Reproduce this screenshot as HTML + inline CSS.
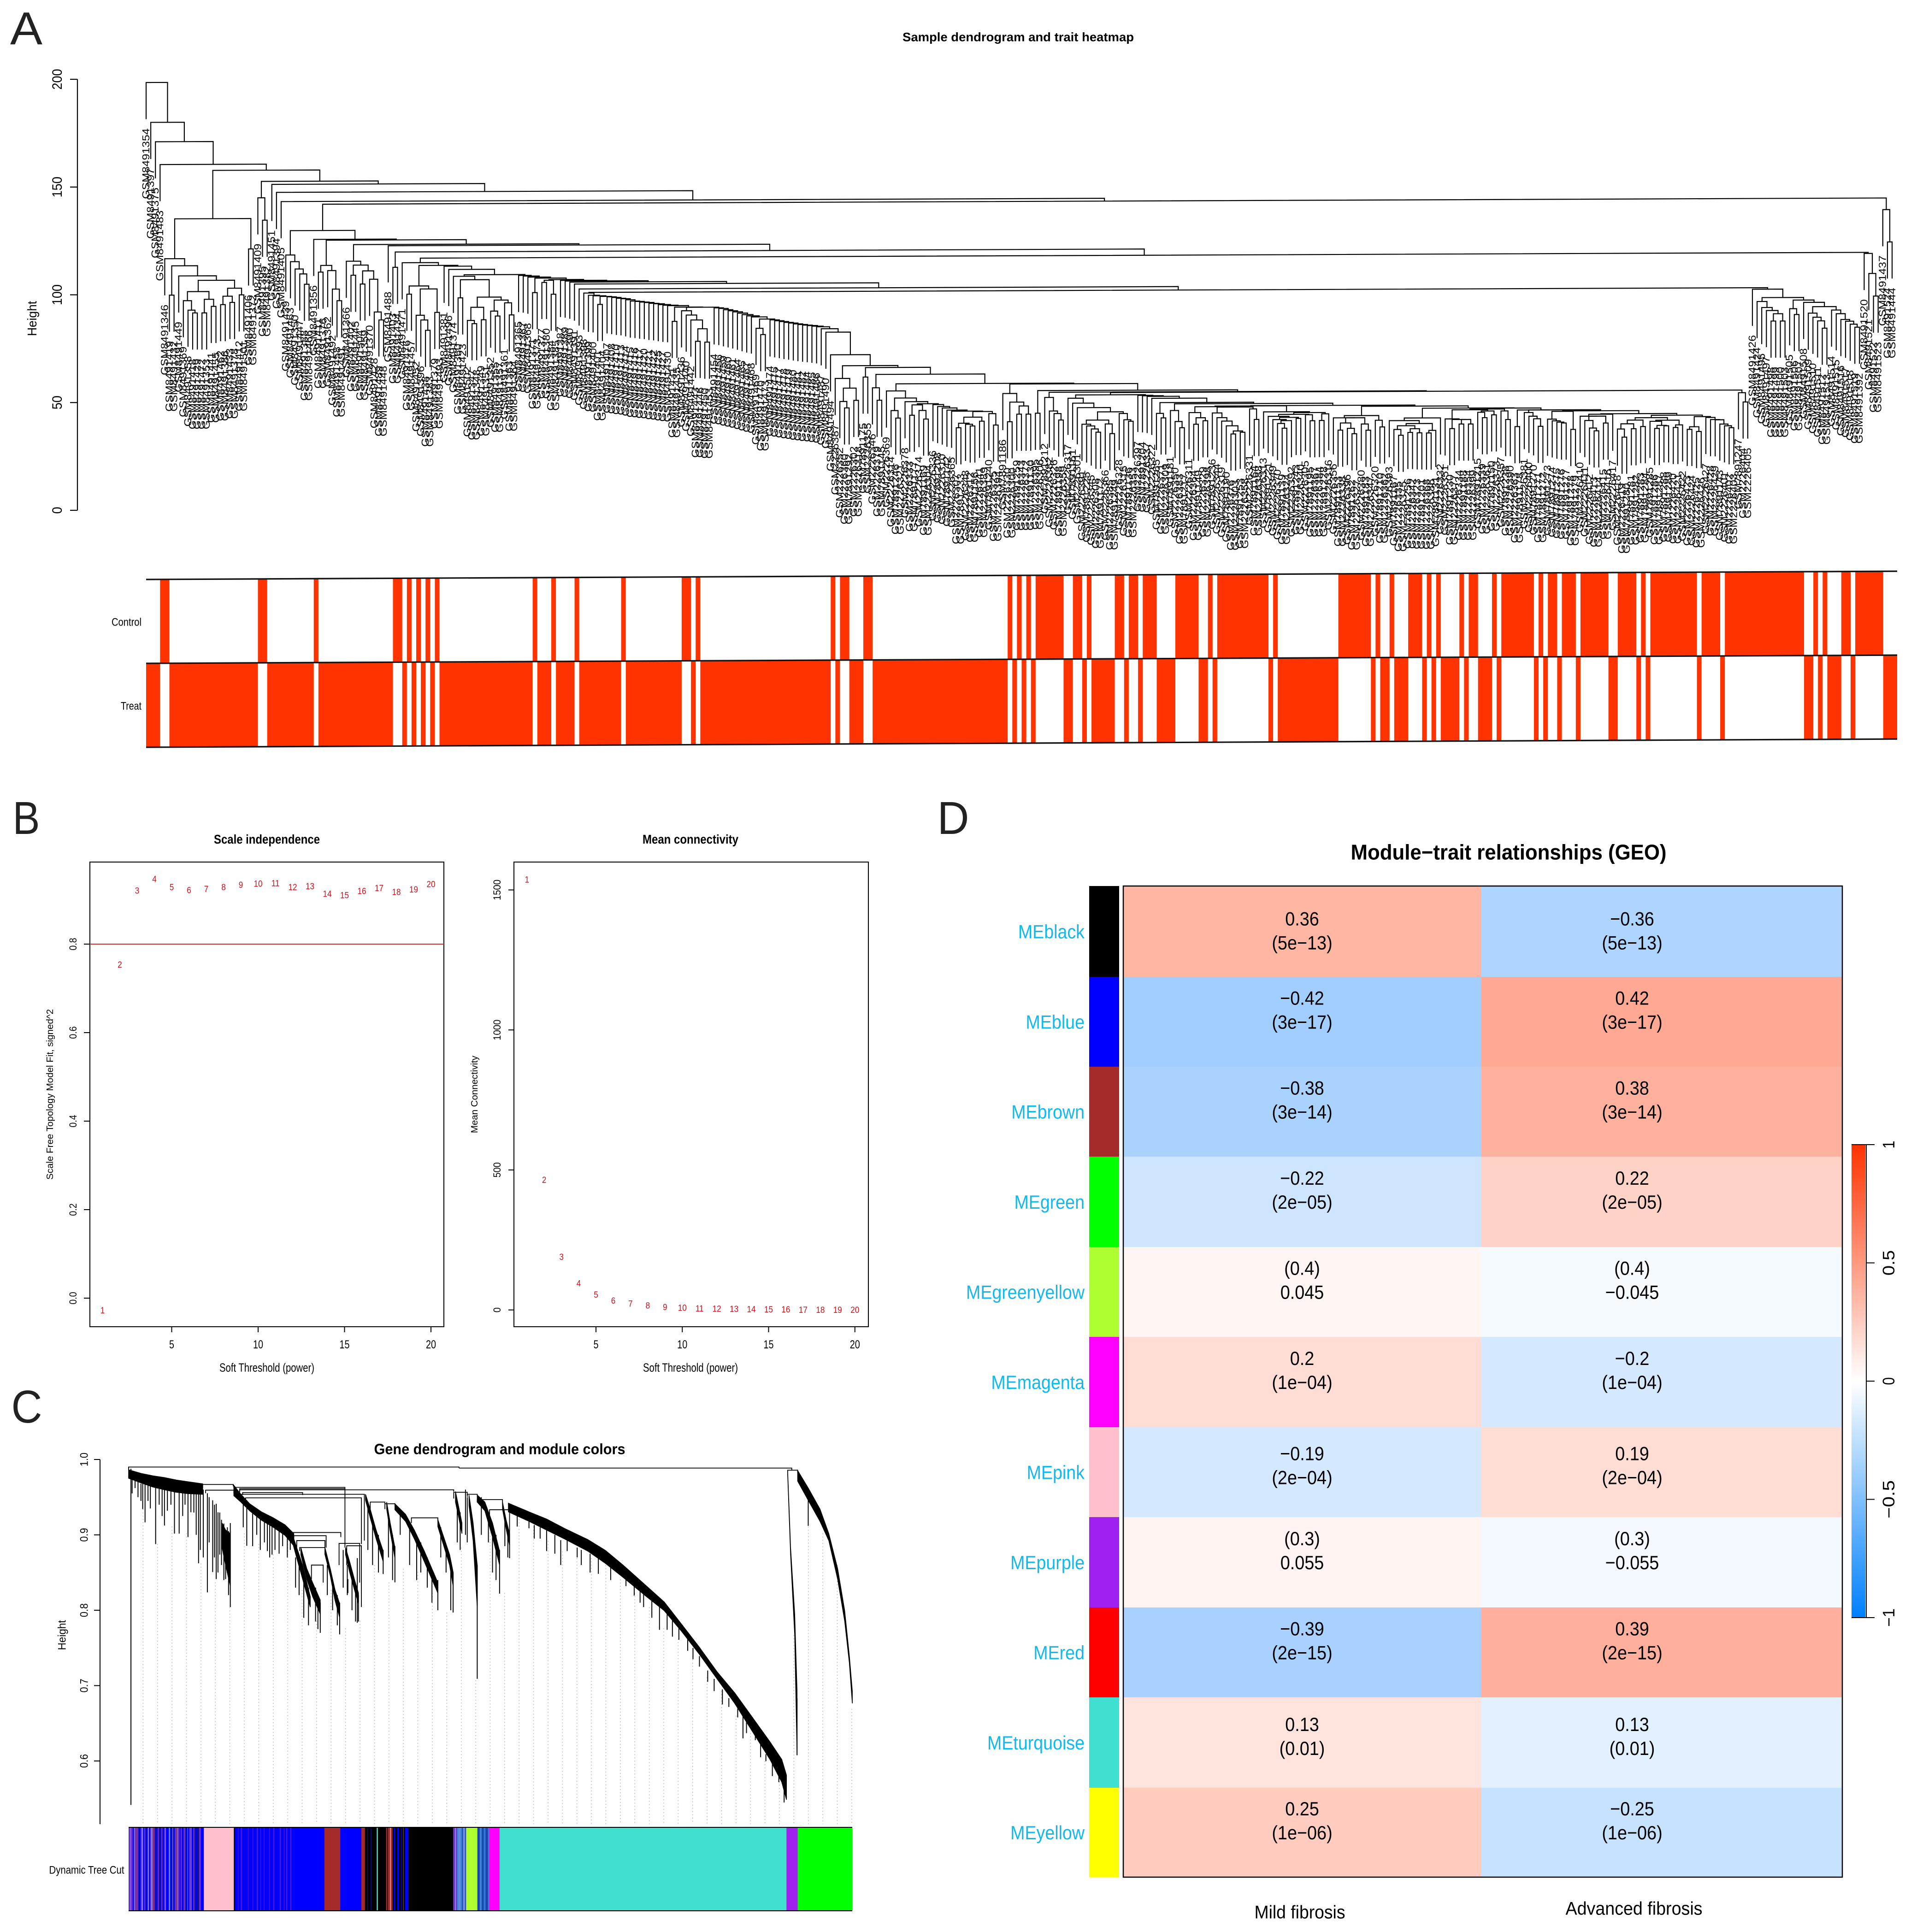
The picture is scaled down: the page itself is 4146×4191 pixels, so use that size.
<!DOCTYPE html>
<html lang="en">
<head>
<meta charset="utf-8">
<title>WGCNA figure</title>
<style>
html,body{margin:0;padding:0;background:#fff;}
svg{display:block;}
text{font-family:"Liberation Sans",sans-serif;}
</style>
</head>
<body>
<svg id="figure" xmlns="http://www.w3.org/2000/svg" width="4146" height="4191" viewBox="0 0 4146 4191">
<defs><linearGradient id="heatRamp" x1="0" y1="0" x2="0" y2="1"></linearGradient></defs>
<rect width="4146" height="4191" fill="#fff"/>
<g id="panelA">
  <g id="panelATree" transform="matrix(1,-0.004,0,1,0,1.268)"></g>
  <g id="panelAHeat" transform="matrix(1,-0.0047,0,1,0,1.49)"></g>
</g>
<g id="panelB"></g>
<g id="panelC"></g>
<g id="panelD"></g>
</svg>
<script>
/* ---------- Panel A data ---------- */
const joinHeights = [198.5,180,171,160.4,116.7,99.8,113.4,108.7,97.2,92.8,
91.5,101.4,91.5,97.8,94.5,106.6,95.3,99.2,96.3,102.9,
99.8,135.2,121.1,157.6,144.8,134.4,152.4,151,147.3,143,
118.2,115.1,111.7,109.4,104.6,129.5,125.4,110.2,113.3,110.9,
102.3,96.9,125,115.2,108.7,113.4,104.6,110.7,106.8,91.6,
87.9,122.9,122.3,112.3,119.4,114.4,
99.8,103.6,90,87.8,83,102.2,91.3,113.1,112.7,111.2,
108,98,106.4,87.5,86,93.6,87.8,98.3,91.8,89.5,
96.9,95.6,90,108.7,108.3,108,107.5,100.3,107,105,
106,99.5,106.3,105.9,105.6,105.1,104.2,101.9,100,
98.95,98.7,94.7,98.4,98.2,97.9,97.5,97.3,96.8,96.2,
96,95.7,95.5,95.1,94.9,94.5,94.2,94,86.7,93.3,
91.6,89.6,87.3,77.4,83.2,77,93.2,92.9,92.6,92,
91.5,91,90.4,89.7,89.1,88.6,83.3,80.4,87.6,87.2,
86.8,86.4,86,85.7,85.3,85,84.7,84.5,84.2,83.9,
83,81.4,70.9,59.9,49.2,46.2,55.4,49.7,65.8,60.5,
64.9,55.5,49.7,61.7,54,44.9,41.4,50.7,49,42.7,
47.5,44.9,40.9,48,47.6,46.7,46,45,44.5,36.8,
38.9,38.4,37.6,41.7,39.8,44.3,43.3,38,57.3,52.6,
39.5,48.6,43,46.8,43,57,43.4,53.9,50.7,44.4,
43.2,40.2,53.1,50.3,48,45.9,38.2,37.4,36,34.5,
40.1,38.3,33.8,43.9,43.1,40.2,39.5,51.8,51.5,51.3,
51,50.1,43.1,41,48.1,44.4,39.3,36.4,47.5,43.4,
38,41,39.6,46.1,43.2,41,39.4,37.2,33.4,34.8,
34.2,45.9,45,40.1,46.4,43.6,41.5,40,38.2,36,
39.5,41,40.5,42.4,
42.2,39.4,43.2,39.5,42.6,46.5,40.7,35,38.3,35.8,
33.3,40.7,37.8,34.9,41.7,39.5,36.4,46,39.3,35.2,
32.5,36.9,33.8,35.5,33.6,37.9,33.5,34.7,40.5,45,
40,35.5,39.7,37.6,39.7,37.6,44.2,43,40.5,43.6,
41.8,44.5,43.6,39.6,44.9,36.3,44,42.8,41.1,39.9,
36.4,44,39.7,38.9,38.3,37.9,43.3,34.9,43.5,41,
39,35.5,34.2,41,37.8,41.9,42.1,35,31.2,37.4,
35.1,39.1,36.1,40.2,38.5,35.2,36.6,36.4,39,35.6,
36.8,41.3,34.7,35.9,33.7,40.6,40.2,39.2,39.1,37.1,
36.3,35.4,52.85,51.6,47.3,100.3,
99.6,93.9,91.1,89.7,84.8,88.2,84.8,95.7,90.5,87.8,
94.5,93.4,88.4,86.5,84.8,81.4,91.4,89.8,88.1,85.4,
84.6,83.2,81.8,116.5,116,106.7,96.2,141.7,136.3,121.3];

const sampleLabels = ("GSM8491354 GSM8491397 GSM8491375 GSM8491483 GSM8491346 GSM8491419 GSM8491432 GSM8491449 GSM8491369 GSM8491358 " +
"GSM8491418 GSM8491429 GSM8491472 GSM8491353 GSM8491441 GSM8491455 GSM8491462 GSM8491386 GSM8491433 GSM8491378 " +
"GSM8491412 GSM8491501 GSM8491406 GSM8491372 GSM8491409 GSM8491395 GSM8491382 GSM8491451 GSM8491394 GSM8491405 " +
"GSM8491439 GSM8491463 GSM8491350 GSM8491447 GSM8491388 GSM8491466 GSM8491356 GSM8491411 GSM8491376 GSM8491362 " +
"GSM8491492 GSM8491458 GSM8491491 GSM8491366 GSM8491402 GSM8491445 GSM8491504 GSM8491359 GSM8491370 GSM8491428 " +
"GSM8491489 GSM8491448 GSM8491488 GSM8491403 GSM8491434 GSM8491471 GSM8491476 GSM8491457 GSM8491452 GSM8491396 " +
"GSM8491438 GSM8491383 GSM8491379 GSM8491493 GSM8491381 GSM8491496 GSM8491374 GSM8491360 GSM8491423 GSM8491502 " +
"GSM8491347 GSM8491348 GSM8491349 GSM8491351 GSM8491352 GSM8491355 GSM8491357 GSM8491361 GSM8491363 GSM8491364 " +
"GSM8491365 GSM8491367 GSM8491368 GSM8491371 GSM8491373 GSM8491377 GSM8491380 GSM8491384 GSM8491385 GSM8491387 " +
"GSM8491389 GSM8491390 GSM8491391 GSM8491393 GSM8491398 GSM8491399 GSM8491400 GSM8491401 GSM8491404 GSM8491407 " +
"GSM8491408 GSM8491410 GSM8491413 GSM8491414 GSM8491415 GSM8491416 GSM8491417 GSM8491420 GSM8491421 GSM8491422 " +
"GSM8491425 GSM8491427 GSM8491430 GSM8491431 GSM8491435 GSM8491436 GSM8491440 GSM8491442 GSM8491443 GSM8491446 " +
"GSM8491450 GSM8491453 GSM8491454 GSM8491456 GSM8491459 GSM8491460 GSM8491461 GSM8491464 GSM8491465 GSM8491467 " +
"GSM8491468 GSM8491469 GSM8491470 GSM8491473 GSM8491474 GSM8491475 GSM8491477 GSM8491478 GSM8491479 GSM8491480 " +
"GSM8491481 GSM8491482 GSM8491484 GSM8491485 GSM8491486 GSM8491487 GSM8491490 GSM8491494 " +
"GSM2226387 GSM2226352 GSM2226360 GSM7891292 GSM2226302 GSM2226318 GSM7891175 GSM2226355 GSM2226346 GSM2226379 " +
"GSM7891145 GSM2226369 GSM2226314 GSM7891246 GSM2226321 GSM2226378 GSM2226333 GSM7891177 GSM2226374 GSM7891169 " +
"GSM2226304 GSM2226336 GSM7891208 GSM2226310 GSM7891142 GSM2226365 GSM2226307 GSM7891233 GSM2226348 GSM2226312 " +
"GSM7891156 GSM2226341 GSM2226389 GSM7891240 GSM2226325 GSM2226394 GSM7891186 GSM2226330 GSM2226300 GSM7891259 " +
"GSM2226343 GSM2226372 GSM7891130 GSM2226395 GSM2226306 GSM7891212 GSM2226382 GSM2226326 GSM7891198 GSM2226359 " +
"GSM2226317 GSM7891161 GSM2226301 GSM2226391 GSM7891225 GSM2226345 GSM2226308 GSM7891172 GSM2226366 GSM2226385 " +
"GSM7891249 GSM2226328 GSM2226315 GSM7891136 GSM2226353 GSM2226397 GSM7891204 GSM2226337 GSM2226322 GSM7891265 " +
"GSM2226371 GSM2226309 GSM7891181 GSM2226350 GSM2226383 GSM7891217 GSM2226311 GSM2226364 GSM7891149 GSM2226329 " +
"GSM2226398 GSM7891236 GSM2226344 GSM2226319 GSM7891190 GSM2226376 GSM2226303 GSM7891253 GSM2226358 GSM2226331 " +
"GSM7891164 GSM2226388 GSM2226313 GSM7891221 GSM2226349 GSM2226370 GSM7891139 GSM2226324 GSM2226392 GSM7891243 " +
"GSM2226340 GSM2226305 GSM7891195 GSM2226367 GSM2226384 GSM7891228 GSM2226316 GSM2226356 GSM7891153 GSM2226338 " +
"GSM2226396 GSM7891262 GSM2226327 GSM2226380 GSM7891183 GSM2226347 GSM2226320 GSM7891210 GSM2226362 GSM2226393 " +
"GSM7891167 GSM2226335 GSM2226375 GSM7891256 GSM2226342 GSM2226323 GSM7891201 GSM2226368 GSM2226386 GSM7891131 " +
"GSM2226332 GSM2226351 GSM7891230 GSM2226377 GSM2226334 GSM7891188 GSM2226354 GSM2226399 GSM7891215 GSM2226339 " +
"GSM2226361 GSM7891150 GSM2226373 GSM2226357 GSM7891238 GSM2226390 GSM2226363 GSM7891178 GSM2226381 GSM2226400 " +
"GSM7891270 GSM7891271 GSM7891272 GSM7891273 GSM7891274 GSM7891275 GSM7891276 GSM7891277 GSM7891278 GSM7891279 " +
"GSM2226410 GSM2226411 GSM2226412 GSM2226413 GSM2226414 GSM2226415 GSM2226416 GSM2226417 GSM2226418 GSM2226419 " +
"GSM7891280 GSM7891281 GSM7891282 GSM7891283 GSM7891284 GSM7891285 GSM7891286 GSM7891287 GSM7891288 GSM7891289 " +
"GSM2226420 GSM2226421 GSM2226422 GSM2226423 GSM2226424 GSM2226425 GSM2226426 GSM2226427 GSM2226428 GSM2226429 " +
"GSM7891143 GSM2226401 GSM2226402 GSM2226403 GSM7891247 GSM2226404 GSM2226405 " +
"GSM8491426 GSM8491424 GSM8491495 GSM8491497 GSM8491498 GSM8491499 GSM8491500 GSM8491503 GSM8491505 GSM8491506 " +
"GSM8491507 GSM8491508 GSM8491509 GSM8491510 GSM8491511 GSM8491512 GSM8491513 GSM8491514 GSM8491515 GSM8491516 " +
"GSM8491517 GSM8491518 GSM8491519 GSM8491392 GSM8491520 GSM8491521 GSM8491522 GSM8491523 GSM8491437 GSM8491524 GSM8491444").split(" ");

const controlSamples = [3,4,24,25,36,53,54,56,58,60,62,83,87,92,102,115,116,118,147,149,150,154,155,
185,187,189,191,192,193,194,195,196,199,200,202,208,209,211,212,214,215,216,221,222,223,224,225,228,
230,231,232,233,234,235,236,237,238,239,240,242,256,257,258,259,260,261,262,264,267,271,272,273,275,277,
282,284,285,289,291,292,293,294,295,296,297,299,301,302,304,305,306,308,309,310,311,312,313,316,317,318,319,321,
323,324,325,326,327,328,329,330,331,332,334,335,336,337,339,340,341,342,343,344,345,346,347,348,349,350,351,352,353,354,355,
358,360,364,365,367,368,369,370,371,372];
const heightTicks = [0,50,100,150,200];
const traitRows = ["Control","Treat"];

/* ---------- Panel B data ---------- */
const softPowers = [1,2,3,4,5,6,7,8,9,10,11,12,13,14,15,16,17,18,19,20];
const scaleFitR2 = [-0.027,0.754,0.921,0.947,0.929,0.922,0.925,0.929,0.934,0.937,0.938,0.929,0.931,0.914,0.911,0.92,0.927,0.918,0.924,0.936];
const meanConnectivity = [1538,465,190,95,55,34,23,16,11,8,6,5,4,3,2,2,1,1,1,1];
const powerTicks = [5,10,15,20];
const fitTicks = [0,0.2,0.4,0.6,0.8];
const connTicks = [0,500,1000,1500];
const fitCutoff = 0.8;

/* ---------- Panel C data (rank = position along gene order, height = tree height) ---------- */
const geneTicks = [0.6,0.7,0.8,0.9,1];
const branchRanks = [
[0,21,41,61,81,101,126],[159,165,173],[179,191,206,226,246,266,281],[278,286,296,309],[293,303,313,326],
[334,343,351,359],[369,376,384,391],[403,411,421,433],[439,445,453],[453,471,486,503,526],[526,536,546,552],
[556,561,567],[579,586,593],[593,606,619,631],[636,642,648],
[646,681,711,741,781,811,841,881,911,941,971,1001,1031,1061,1091,1111,1119],
[1138,1156,1176,1191,1206,1218,1226,1231],[1121,1126,1133,1137]];
const branchUpper = [
[.9863,.9816,.9784,.976,.9728,.9705,.9677],[.9157,.9064,.9017],[.9658,.9538,.9412,.9305,.9226,.9133,.9017],[.9017,.8831,.8599,.8181],[.8831,.8553,.8367,.8135],
[.8831,.8553,.8274,.8088],[.8831,.8645,.8413,.8227],[.9538,.9342,.9064,.8785],[.9435,.9157,.8831],[.9412,.9273,.9064,.8785,.8367],[.9203,.8971,.8738,.8506],
[.9575,.9389,.9157],[.9528,.9157,.8599],[.9528,.9435,.9157,.8785],[.9435,.9203,.9017],
[.942,.9305,.921,.9087,.8938,.8794,.8599,.832,.811,.781,.7507,.7182,.6903,.6578,.6253,.602,.5812],
[.9854,.9621,.9342,.9017,.8553,.7995,.7391,.6927],[.9854,.8831,.7949,.6927]];
const branchLower = [
[.9751,.969,.9635,.9598,.9565,.9547,.9538],[.8831,.8599,.832],[.9519,.9435,.9319,.9194,.9101,.8994,.8855],[.8924,.8692,.8413,.8042],[.8738,.8413,.8181,.7949],
[.8738,.846,.8135,.7902],[.8738,.8506,.8274,.8088],[.9459,.9226,.8948,.8645],[.9342,.904,.8692],[.9333,.918,.8948,.8645,.8227],[.911,.8855,.8599,.832],
[.9435,.925,.9017],[.9389,.8924,.8042],[.9435,.9319,.897,.8599],[.9342,.9087,.8855],
[.9305,.918,.9064,.8948,.8785,.8622,.8437,.818,.7995,.7716,.7414,.7089,.6764,.6392,.602,.5719,.5486],
[.9714,.9459,.918,.8924,.8413,.7856,.7298,.6764],[.9807,.8738,.767,.6081]];
const needleRanks = [4,11,24,28,46,61,78,86,101,111,119,134,143,149,155,173,201,236,244,373,389,661,681,711,746,763,799,846,860,876,903,916,936,951,971,996,1021,1036,1051,1066,1084,1106,1137,1156,
6,16,21,33,37,52,57,66,72,92,96,106,115,122,127,
137,146,152,158,162,165,168,170,
195,211,218,224,231,240,249,256,262,270,275,
284,290,298,306,318,322,326,338,347,355,359,365,372,380,386,391,
407,415,425,433,442,449,453,462,478,490,497,508,516,526,531,540,548,552,
559,564,573,576,593,600,612,619,625,631,640,645,648,
690,700,725,735,770,785,820,870,890,925,960,985,1010,1045,1075,1095,1115];
const needleTops = [.9877,.9737,.9714,.969,.9644,.9621,.9598,.9598,.9575,.9552,.9621,.9552,.9459,.9412,.9296,.9157,.9459,.925,.9203,.8413,.8692,.925,.918,.9064,.8948,.8831,.8692,.8506,.8367,.8274,.8088,.7995,.7763,.7623,.7391,.7089,.6833,.6694,.6532,.6369,.609,.5858,.6834,.9482,
.975,.972,.968,.966,.965,.961,.96,.959,.958,.957,.956,.955,.955,.955,.96,
.95,.94,.93,.92,.915,.9064,.91,.905,
.945,.93,.93,.925,.925,.915,.915,.91,.905,.9,.9,
.87,.86,.85,.83,.83,.82,.81,.86,.84,.82,.81,.88,.86,.84,.83,.82,
.94,.92,.9,.88,.92,.9,.885,.93,.915,.9,.89,.87,.85,.84,.91,.88,.86,.85,
.94,.93,.96,.95,.86,.95,.93,.915,.9,.88,.925,.91,.9,
.913,.91,.9,.893,.88,.875,.86,.835,.825,.79,.75,.72,.695,.66,.625,.6,.57];
const needleBottoms = [.5417,.9621,.9342,.9166,.8878,.9124,.9017,.9017,.897,.9296,.8622,.8237,.8506,.8413,.8738,.8042,.8855,.8785,.8738,.8227,.7833,.911,.9087,.8785,.8785,.8701,.8483,.832,.8195,.8042,.774,.774,.7609,.7461,.7252,.6927,.6717,.6578,.6369,.6276,.5997,.5719,.6076,.912,
.955,.95,.945,.945,.935,.94,.925,.932,.94,.925,.94,.93,.9,.88,.87,
.89,.87,.85,.86,.84,.8413,.85,.82,
.91,.885,.9,.88,.89,.87,.88,.875,.885,.87,.88,
.83,.82,.79,.78,.785,.775,.77,.82,.8,.78,.768,.83,.82,.8,.785,.785,
.88,.86,.85,.848,.87,.84,.837,.9,.86,.84,.85,.83,.81,.8,.87,.85,.8,.797,
.89,.88,.9,.89,.709,.9,.89,.85,.84,.822,.885,.87,.869,
.895,.895,.875,.86,.86,.85,.84,.81,.79,.765,.735,.705,.675,.63,.605,.58,.545];
const joinStarts = [0,562,1121,126,131,179,189,189,194,191,199,278,281,286,291,311,358,371,411,436,481,553,576,593,614];
const joinEnds = [562,1128,1138,178,179,368,368,553,296,401,396,361,336,334,334,331,393,396,436,453,526,576,593,636,648];
const joinLevels = [.99,.9886,.9858,.9668,.9593,.963,.9612,.9598,.9561,.9538,.9491,.9031,.8989,.8924,.8831,.8599,.8887,.8855,.9435,.9412,.9226,.9565,.9538,.9468,.9333];
const joinLeftFeet = [.9863,.9886,.983,.9621,.9552,.9644,.9575,.9565,.9528,.9482,.9459,.897,.8948,.8831,.8785,.8413,.8599,.8599,.9342,.9342,.9157,.9482,.9505,.9435,.9157];
const joinRightFeet = [.9886,.9858,.983,.9644,.9552,.9612,.8831,.9575,.9528,.8924,.8878,.897,.8831,.8831,.8738,.8367,.8367,.8042,.9412,.9389,.918,.9528,.9519,.9412,.8970];
const guideTops = [.934,.888,.911,.902,.862,.837,.804,.902,.888,.874,.892,.827,.786,.827,.776,.786,.860,.837,.855,.851,.823,.797,.883,.707,.916,.823,.925,.911,.892,.878,.869,.869,.860,.841,.823,.804,.776,.762,.739,.711,.693,.660,.637,.600,.577,.767,.911,.902,.860,.669];
const moduleRunColors = ["violet","lilac","violet","blue","lilac","violet","plum","violet","navy","blue","violet","lilac","blue","violet","navy","blue","lilac","blue","violet","lilac","violet","plum","blue","navy","blue","violet","navy","blue","violet","navy","blue","violet","lilac","blue","lilac","skyish","blue","navy","lilac","navy","blue","violet","plum","lilac","violet","blue","violet","blue","violet","plum","navy","blue","skyish","blue","violet","lilac","blue","violet","navy","blue","navy","violet","blue","blue",
"pink","black",
"blue","indigo","blue","indigo","blue","navy","blue","indigo","blue","indigo","blue","indigo","blue","indigo","blue","indigo","blue","indigo","blue","indigo","blue","indigo","blue","indigo","blue","indigo","blue","indigo","blue",
"blue","brown","blue",
"brown","black","blue","black","blue","black","turquoise","black","black","brown","black","brown","pink","brown","black","blue","black","blue","black","blue","black","brown","black","blue",
"black",
"violet","lilac","violet","skyish","lilac","skyish","skyish","navy","skyish","lilac","skyish","skyish","navy",
"greenyellow",
"steel","navy","steel","skyish","steel","navy","steel","skyish","steel","navy","steel","skyish",
"magenta","turquoise","purple","green"];
const moduleRunGenes = [3,1,3,2,1.5,2.5,1.5,2,1,3,2,2,2,2,1,3,2,2,2,2,1,3,1,2,2,2,2,2,2,1,2,2,1,5,1,1,3,1,1,1,2,2,2,1,3,2,2,3,2,1,1.5,2,1,2,3,1,3,2,2,3,3,3,2,3,
51,2,
5,1,4,2,3,1,6,1,7,1,6,2,4,1,5,1,8,1,6,2,9,2,5,1,3,2,5,2,9,
47,27,36,
6,4,1,5,1,9,2,3,11,2,1,4,1,3,2,2,4,3,3,1,3,1,2,6,
76,
3,2,2,3,1,2,2,1,2,1,1,1,1,
19,
2,1,2,2,2,1,2,1,3,1,2,1,
18,488,19,93];
const moduleHex = {purple:"#a020f0",pink:"#ffc0cb",blue:"#0000ff",brown:"#a52a2a",black:"#000000",turquoise:"#40e0d0",greenyellow:"#adff2f",magenta:"#ff00ff",green:"#00ff00",
violet:"#6a30d0",lilac:"#8f80dc",navy:"#14148c",plum:"#8a2c70",skyish:"#3f90e0",indigo:"#4a18d8",steel:"#2060c0"};

/* ---------- Panel D data ---------- */
const moduleNames = ["MEblack","MEblue","MEbrown","MEgreen","MEgreenyellow","MEmagenta","MEpink","MEpurple","MEred","MEturquoise","MEyellow"];
const moduleSwatches = ["#000000","#0000ff","#a52a2a","#00ff00","#adff2f","#ff00ff","#ffc0cb","#a020f0","#ff0000","#40e0d0","#ffff00"];
const corrMild = [0.36,-0.42,-0.38,-0.22,0.045,0.17,-0.19,0.055,-0.39,0.13,0.25];
const corrAdvanced = [-0.36,0.42,0.38,0.22,-0.045,-0.19,0.17,-0.055,0.39,-0.13,-0.25];
const mildFirstLine = ["0.36","\u22120.42","\u22120.38","\u22120.22","(0.4)","0.2","\u22120.19","(0.3)","\u22120.39","0.13","0.25"];
const mildSecondLine = ["(5e\u221213)","(3e\u221217)","(3e\u221214)","(2e\u221205)","0.045","(1e\u221204)","(2e\u221204)","0.055","(2e\u221215)","(0.01)","(1e\u221206)"];
const advFirstLine = ["\u22120.36","0.42","0.38","0.22","(0.4)","\u22120.2","0.19","(0.3)","0.39","0.13","\u22120.25"];
const advSecondLine = ["(5e\u221213)","(3e\u221217)","(3e\u221214)","(2e\u221205)","\u22120.045","(1e\u221204)","(2e\u221204)","\u22120.055","(2e\u221215)","(0.01)","(1e\u221206)"];
const traitNames = ["Mild fibrosis","Advanced fibrosis"];
const rampTicks = [1,0.5,0,-0.5,-1];
const rampTickLabels = ["1","0.5","0","\u22120.5","\u22121"];

/* ---------- helpers ---------- */
const NS = "http://www.w3.org/2000/svg";
function shape(tag, parent, attrs){
  const e = document.createElementNS(NS, tag);
  for (const k in attrs) e.setAttribute(k, attrs[k]);
  parent.appendChild(e);
  return e;
}
function txt(parent, str, x, y, size, o){
  o = o || {};
  const e = document.createElementNS(NS, "text");
  e.textContent = str;
  e.setAttribute("x", x);
  e.setAttribute("y", y + 0.36 * size);
  e.setAttribute("font-size", size);
  e.setAttribute("text-anchor", o.anchor || "middle");
  e.setAttribute("fill", o.fill || "#000");
  if (o.bold) e.setAttribute("font-weight", "bold");
  if (o.rot) e.setAttribute("transform", "rotate(-90 " + x + " " + y + ")");
  parent.appendChild(e);
  if (o.factor) { o.len = e.getComputedTextLength() * o.factor; }
  if (o.len) { e.setAttribute("textLength", o.len); e.setAttribute("lengthAdjust", "spacingAndGlyphs"); }
  return e;
}
function hv(parent, x1, y1, x2, y2, w, col){
  return shape("line", parent, {x1:x1, y1:y1, x2:x2, y2:y2, stroke:col || "#000", "stroke-width":w || 2});
}
const panelA = document.getElementById("panelA");
const treeA = document.getElementById("panelATree");
const heatA = document.getElementById("panelAHeat");
const panelB = document.getElementById("panelB");
const panelC = document.getElementById("panelC");
const panelD = document.getElementById("panelD");

/* ---------- panel letters ---------- */
const letterA = txt(panelA, "A", 57, 60, 100, {len:70, fill:"#222"});


const letterB = txt(panelB, "B", 57, 1773, 100, {len:59, fill:"#222"});


const letterC = txt(panelC, "C", 58, 3050, 100, {len:67, fill:"#222"});


const letterD = txt(panelD, "D", 2068, 1773, 100, {len:69, fill:"#222"});



/* ---------- Panel A ---------- */
const xA = i => 317 + i * (4105 - 317) / joinHeights.length;
const yA = h => 1107 - 4.675 * h;
const leafHang = 17;
function buildTree(lo, hi){
  if (lo === hi) return {leaf:true, i:lo, x:xA(lo)};
  let k = lo;
  for (let j = lo; j < hi; j++) if (joinHeights[j] > joinHeights[k]) k = j;
  const left = buildTree(lo, k);
  const right = buildTree(k + 1, hi);
  const h = joinHeights[k];
  const foot = c => c.leaf ? h - leafHang : c.h;
  const link = shape("path", treeA, {
    d:"M" + left.x + " " + yA(foot(left)) + "V" + yA(h) + "H" + right.x + "V" + yA(foot(right)),
    fill:"none", stroke:"#000", "stroke-width":2.2
  });
  
  
  [left, right].forEach(c => {
    if (c.leaf) {
      const tip = yA(h - leafHang) + 20;
      const lab = txt(treeA, sampleLabels[c.i] || "", c.x - 1, tip, 22, {anchor:"end", rot:true, len:153});
      
      
    }
  });
  return {leaf:false, x:(left.x + right.x) / 2, h:h};
}
buildTree(0, joinHeights.length);

const axisA = hv(panelA, 168, yA(0), 168, yA(200), 2.2);


heightTicks.forEach(v => {
  const tk = hv(panelA, 152, yA(v), 168, yA(v), 2.2);
  
  
  const lb = txt(panelA, String(v), 123, yA(v), 30, {rot:true, len:v === 0 ? 15 : (v === 50 ? 30 : 45)});
  
  
});
const yTitleA = txt(panelA, "Height", 69, 691, 28, {rot:true, len:76});


const titleA = txt(panelA, "Sample dendrogram and trait heatmap", 2209, 80, 27, {bold:true, len:502});



const heatX = i => 317 + i * (4116 - 317) / 376;
const rowTop = [1257, 1439];
const rowH = 182;
const controlSet = new Set(controlSamples);
traitRows.forEach((row, r) => {
  let start = -1;
  for (let i = 0; i <= 376; i++) {
    const on = i < 376 && (r === 0 ? controlSet.has(i) : !controlSet.has(i));
    if (on && start < 0) start = i;
    if (!on && start >= 0) {
      const bar = shape("rect", heatA, {x:heatX(start), y:rowTop[r], width:heatX(i) - heatX(start), height:rowH, fill:"#ff3300"});
      
      
      start = -1;
    }
  }
});
[1257, 1439, 1621].forEach(y => {
  const rule = hv(heatA, 317, y, 4116, y, 3.2, "#111");
  
  
});
const controlLabel = txt(panelA, "Control", 307, 1349, 24, {anchor:"end", len:65});


const treatLabel = txt(panelA, "Treat", 307, 1531, 24, {anchor:"end", len:45});



/* ---------- Panel B ---------- */
const xFit = v => 372.5 + (v - 5) * 37.5;
const yFit = v => 2816 - v * 960;
const xConn = v => 1293 + (v - 5) * 37.45;
const yConn = v => 2841.6 - v * 0.6074;
const boxLeft = shape("rect", panelB, {x:195, y:1870, width:768, height:1008, fill:"none", stroke:"#000", "stroke-width":2});


const boxRight = shape("rect", panelB, {x:1115, y:1870, width:769, height:1008, fill:"none", stroke:"#000", "stroke-width":2});


const titleB1 = txt(panelB, "Scale independence", 579, 1820, 28, {bold:true, len:230});


const titleB2 = txt(panelB, "Mean connectivity", 1498, 1820, 28, {bold:true, len:208});


const xTitle1 = txt(panelB, "Soft Threshold (power)", 579, 2966, 26, {len:206});


const xTitle2 = txt(panelB, "Soft Threshold (power)", 1498, 2966, 26, {len:206});


const yTitle1 = txt(panelB, "Scale Free Topology Model Fit, signed^2", 108, 2374, 20, {rot:true, len:370});


const yTitle2 = txt(panelB, "Mean Connectivity", 1029, 2374, 20, {rot:true, len:168});


powerTicks.forEach(v => {
  [xFit, xConn].forEach(fx => {
    const tk = hv(panelB, fx(v), 2878, fx(v), 2890, 2);
    
    
    const lb = txt(panelB, String(v), fx(v), 2916, 25, {len:v < 10 ? 11 : 22});
    
    
  });
});
fitTicks.forEach(v => {
  const tk = hv(panelB, 182, yFit(v), 195, yFit(v), 2);
  
  
  const lb = txt(panelB, v.toFixed(1), 158, yFit(v), 22, {rot:true, len:27});
  
  
});
connTicks.forEach(v => {
  const tk = hv(panelB, 1103, yConn(v), 1115, yConn(v), 2);
  
  
  const lb = txt(panelB, String(v), 1078, yConn(v), 22, {rot:true, len:v === 0 ? 11 : (v === 500 ? 33 : 45)});
  
  
});
const cutLine = hv(panelB, 195, yFit(fitCutoff), 963, yFit(fitCutoff), 2, "#dc2a2a");


softPowers.forEach((p, i) => {
  const a = txt(panelB, String(p), xFit(p), yFit(scaleFitR2[i]), 19, {fill:"#d0101c", factor:0.9});
  
  
  const b = txt(panelB, String(p), xConn(p), yConn(meanConnectivity[i]), 19, {fill:"#d0101c", factor:0.9});
  
  
});

/* ---------- Panel C ---------- */
const xGene = r => 279 + r * 1.2755;
const yGene = v => 3166 + (1 - v) * 1635;
const treeC = shape("g", panelC, {});


guideTops.forEach((top, k) => {
  const gx = xGene(24.6 * (k + 1));
  const g = shape("line", treeC, {x1:gx, y1:yGene(top), x2:gx, y2:3957, stroke:"#b4b4b4", "stroke-width":1.5, "stroke-dasharray":"2 5"});
  
  
});
branchRanks.forEach((ranks, b) => {
  const up = ranks.map((r, i) => xGene(r) + "," + yGene(branchUpper[b][i]));
  const lo = ranks.map((r, i) => xGene(r) + "," + yGene(branchLower[b][i])).reverse();
  const poly = shape("polygon", treeC, {points:up.concat(lo).join(" "), fill:"#000", stroke:"#000", "stroke-width":1.5});
  
  
});
needleRanks.forEach((r, i) => {
  const n = hv(treeC, xGene(r), yGene(needleTops[i]), xGene(r), yGene(needleBottoms[i]), 2);
  
  
});
joinStarts.forEach((s, i) => {
  const j = shape("path", treeC, {
    d:"M" + xGene(s) + " " + yGene(joinLeftFeet[i]) + "V" + yGene(joinLevels[i]) + "H" + xGene(joinEnds[i]) + "V" + yGene(joinRightFeet[i]),
    fill:"none", stroke:"#000", "stroke-width":1.8
  });
  
  
});
const axisC = hv(panelC, 217, 3166, 217, 3957, 2);


geneTicks.forEach(v => {
  const tk = hv(panelC, 204, yGene(v), 217, yGene(v), 2);
  
  
  const lb = txt(panelC, v.toFixed(1), 182, yGene(v), 24, {rot:true, len:30});
  
  
});
const yTitleC = txt(panelC, "Height", 134, 3547, 24, {rot:true, len:65});


const titleC = txt(panelC, "Gene dendrogram and module colors", 1084, 3143, 32, {bold:true, len:545});


const cutLabel = txt(panelC, "Dynamic Tree Cut", 188, 4056, 24, {len:163});


let runStart = 0;
moduleRunColors.forEach((c, i) => {
  const w = moduleRunGenes[i];
  const seg = shape("rect", panelC, {x:xGene(runStart), y:3964, width:w * 1.2755 + 0.3, height:181, fill:moduleHex[c]});
  
  
  runStart += w;
});
const barTop = hv(panelC, 279, 3964, 1849, 3964, 2);


const barBottom = hv(panelC, 279, 4145, 1849, 4145, 2);



/* ---------- Panel D ---------- */
const rowEdges = [1922,2119,2314,2509,2705,2900,3096,3291,3487,3682,3878,4072];
const textNudge = [24,0,0,0,0,0,11,0,0,12,0];
const mixColor = (t, end) => "rgb(" + end.map(c => Math.round(255 + (c - 255) * t)).join(",") + ")";
const heatColor = v => mixColor(Math.abs(v), v >= 0 ? [255,51,0] : [31,137,255]);
const rampColor = v => mixColor(Math.abs(v), v >= 0 ? [255,51,0] : [0,128,255]);
moduleNames.forEach((name, i) => {
  const top = rowEdges[i], bot = rowEdges[i + 1], mid = (top + bot) / 2;
  const sw = shape("rect", panelD, {x:2363, y:top, width:65, height:bot - top + 0.5, fill:moduleSwatches[i]});
  
  
  const cl = shape("rect", panelD, {x:2437, y:top, width:777, height:bot - top + 0.5, fill:heatColor(corrMild[i])});
  
  
  const cr = shape("rect", panelD, {x:3214, y:top, width:783, height:bot - top + 0.5, fill:heatColor(corrAdvanced[i])});
  
  
  const lb = txt(panelD, name, 2353, mid, 42, {anchor:"end", fill:"#12b9ec", factor:0.895});
  
  
  const y2 = mid + textNudge[i], y1 = y2 - 52;
  const m1 = txt(panelD, mildFirstLine[i], 2825, y1, 42, {factor:0.9});
  
  
  const m2 = txt(panelD, mildSecondLine[i], 2825, y2, 42, {factor:0.9});
  
  
  const a1 = txt(panelD, advFirstLine[i], 3541, y1, 42, {factor:0.9});
  
  
  const a2 = txt(panelD, advSecondLine[i], 3541, y2, 42, {factor:0.9});
  
  
});
const heatFrame = shape("rect", panelD, {x:2437, y:1922, width:1560, height:2150, fill:"none", stroke:"#000", "stroke-width":2.5});


const titleD = txt(panelD, "Module\u2212trait relationships (GEO)", 3273, 1848, 46, {bold:true, len:685});


const traitLabel1 = txt(panelD, traitNames[0], 2820, 4147, 40, {len:197});


const traitLabel2 = txt(panelD, traitNames[1], 3545, 4139, 40, {len:297});



const ramp = document.getElementById("heatRamp");
rampTicks.forEach((v, i) => {
  const stop = shape("stop", ramp, {offset:(i * 25) + "%", "stop-color":rampColor(v)});
  
  
});
const yRamp = v => 2996 - v * 513;
const rampBar = shape("rect", panelD, {x:4017, y:yRamp(1), width:30, height:yRamp(-1) - yRamp(1), fill:"url(#heatRamp)"});


const rampAxis = hv(panelD, 4049, yRamp(1), 4049, yRamp(-1), 2);


rampTicks.forEach((v, i) => {
  const tk = hv(panelD, 4017, yRamp(v), 4067, yRamp(v), 2);
  if (v !== 1 && v !== -1) tk.setAttribute("x1", 4049);
  
  
  const s = rampTickLabels[i];
  const lb = txt(panelD, s, 4097, yRamp(v), 36, {rot:true, len:s.length === 1 ? 17 : (s.length === 2 ? 40 : (s.length === 3 ? 55 : 83))});
  
  
});
</script>
</body>
</html>
